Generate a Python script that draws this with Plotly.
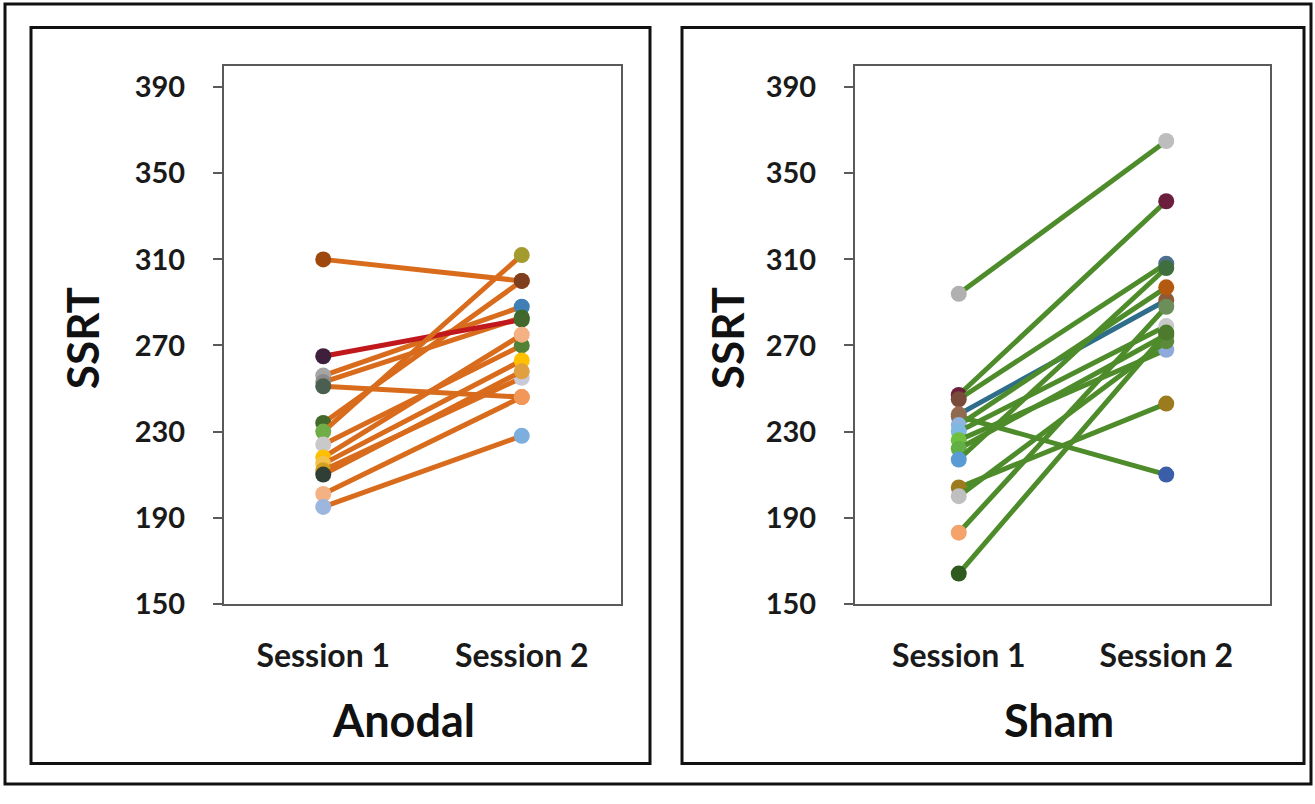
import plotly.graph_objects as go

W, H = 1315, 804

categories = ["Session 1", "Session 2"]

# Anodal group: SSRT per subject
anodal_s1 = [310, 265, 256, 253, 251, 234, 230, 224, 218, 215, 212, 210, 201, 195]
anodal_s2 = [300, 282, 288, 283, 246, 300, 312, 270, 275, 263, 255, 258, 246, 228]

# Sham group: SSRT per subject
sham_s1 = [294, 247, 245, 238, 237, 233, 230, 226, 222, 217, 204, 200, 183, 164]
sham_s2 = [365, 337, 308, 291, 210, 297, 279, 268, 275, 306, 243, 272, 288, 276]

y_ticks = [150, 190, 230, 270, 310, 350, 390]

# ---- styles ----
anodal_line = ["#D86C1C"] * len(anodal_s1)
anodal_line[1] = "#C0181C"
anodal_m1 = ["#9E480E", "#3E1F3C", "#A5A5A5", "#8C8C8C", "#4A5F4F", "#43682B", "#70AD47",
             "#C9C9C9", "#FFC000", "#F2C14E", "#D4A020", "#2F3F35", "#F4B183", "#9DB6DE"]
anodal_m2 = ["#C55A11", "#43682B", "#3F7FB5", "#3B6C2E", "#ED8A3F", "#7F3F1F", "#A39B2E",
             "#548235", "#F4B183", "#FFC000", "#C9C9D9", "#E0A040", "#F1975A", "#7CAFDD"]

sham_line = ["#4E8B2A"] * len(sham_s1)
sham_line[3] = "#2E6E8A"
sham_m1 = ["#B0B0B0", "#6B1F3D", "#7A4A3A", "#9E6A50", "#8E6A50", "#8FB4DE", "#7FB8E0",
           "#70C040", "#62B045", "#5B9BD5", "#9C7A1E", "#BFBFBF", "#F4A46A", "#2F5A1F"]
sham_m2 = ["#BDBDBD", "#6B1F3D", "#4F6F8F", "#8E5A3A", "#3A5FA8", "#B35A10", "#C8C8C8",
           "#8EAADB", "#43682B", "#3F6F3F", "#9C7A1E", "#5A8A3A", "#6B8E5A", "#4E7A2E"]

FONT = "Lato"
AXC = "#5A5A5A"

fig = go.Figure()

def add_group(s1, s2, lines, m1, m2, xa, ya, order=None):
    idx = list(range(len(s1)))
    if order:
        idx = order
    for i in idx:
        fig.add_trace(go.Scatter(
            x=categories, y=[s1[i], s2[i]], mode="lines+markers",
            line=dict(color=lines[i], width=5),
            marker=dict(size=16, color=[m1[i], m2[i]], line=dict(width=0)),
            xaxis=xa, yaxis=ya, showlegend=False, hoverinfo="y"))

a_order = [i for i in range(len(anodal_s1)) if i != 1]
a_order = a_order[:5] + [1] + a_order[5:]
add_group(anodal_s1, anodal_s2, anodal_line, anodal_m1, anodal_m2, "x", "y", a_order)
add_group(sham_s1, sham_s2, sham_line, sham_m1, sham_m2, "x2", "y2")

ydom = [1 - 616 / H, 1 - 67 / H]

def xax(x0, x1):
    return dict(domain=[x0 / W, x1 / W], type="category", range=[-0.5, 1.5],
                showline=True, mirror=True, linecolor=AXC, linewidth=2,
                showgrid=False, zeroline=False, ticks="",
                tickfont=dict(family=FONT, size=32, color="#1a1a1a", weight="bold"),
                ticklabelstandoff=23, fixedrange=True)

def yax():
    return dict(domain=ydom, range=[150, 400], tickvals=y_ticks,
                showline=True, mirror=True, linecolor=AXC, linewidth=2,
                showgrid=False, zeroline=False, ticks="outside", ticklen=9,
                tickwidth=2, tickcolor=AXC,
                tickfont=dict(family=FONT, size=29, color="#1a1a1a", weight="bold"),
                ticklabelstandoff=22, fixedrange=True)

fig.update_layout(
    width=W, height=H, margin=dict(l=0, r=0, t=0, b=0),
    paper_bgcolor="white", plot_bgcolor="white",
    xaxis=xax(224, 621), yaxis=yax(),
    xaxis2=dict(xax(855, 1270), anchor="y2"), yaxis2=dict(yax(), anchor="x2"),
)
fig.layout.xaxis.anchor = "y"
fig.layout.yaxis.anchor = "x"

shapes = [
    dict(type="rect", xref="paper", yref="paper", x0=5 / W, x1=1311 / W,
         y0=1 - 800 / H, y1=1 - 4 / H, line=dict(color="#111", width=3), layer="below"),
    dict(type="rect", xref="paper", yref="paper", x0=31 / W, x1=650 / W,
         y0=1 - 779 / H, y1=1 - 28 / H, line=dict(color="#111", width=3), layer="below"),
    dict(type="rect", xref="paper", yref="paper", x0=682 / W, x1=1304 / W,
         y0=1 - 779 / H, y1=1 - 28 / H, line=dict(color="#111", width=3), layer="below"),
]
fig.update_layout(shapes=shapes)

ann = [
    dict(text="<b>SSRT</b>", x=82 / W, y=1 - 345 / H, textangle=-90, size=44),
    dict(text="<b>SSRT</b>", x=727 / W, y=1 - 345 / H, textangle=-90, size=44),
    dict(text="<b>Anodal</b>", x=404 / W, y=1 - 735 / H, textangle=0, size=45),
    dict(text="<b>Sham</b>", x=1059 / W, y=1 - 735 / H, textangle=0, size=45),
]
fig.update_layout(annotations=[
    dict(text=a["text"], x=a["x"], y=a["y"], xref="paper", yref="paper",
         showarrow=False, textangle=a["textangle"], xanchor="center", yanchor="middle",
         font=dict(family=FONT, size=a["size"], color="#111")) for a in ann])

fig.write_html("out.html")
